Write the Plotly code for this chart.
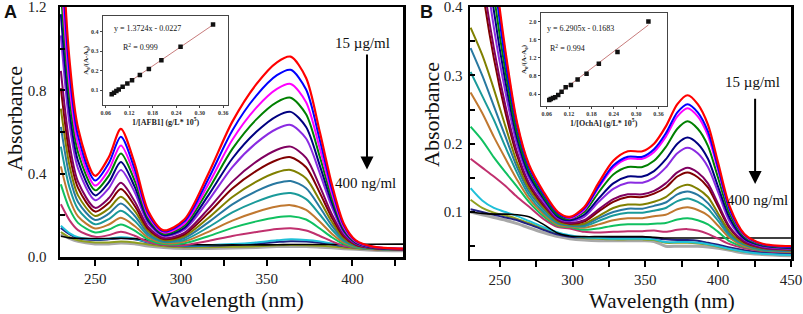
import plotly.graph_objects as go

W, H = 803, 314
SERIF = "Liberation Serif"
SANS = "Liberation Sans"

# ---------------- Panel A data (AFB1) ----------------
WL_A = [230, 235, 240, 250, 258, 265, 273, 281, 290, 302, 316, 330, 344, 356, 364, 373, 381, 388, 395, 402, 412, 430]

A_RED = [1.6, 0.95, 0.62, 0.39, 0.48, 0.615, 0.45, 0.22, 0.128, 0.18, 0.40, 0.65, 0.83, 0.935, 0.962, 0.86, 0.60, 0.35, 0.16, 0.08, 0.05, 0.04]
A_BLUE = [1.496, .89, .582, .367, .451, .577, .423, .209, .123, .171, .375, .608, .775, .873, .899, .804, .562, .329, .152, .077, .049, .039]
A_MAGENTA = [1.385, .827, .542, .343, .42, .536, .395, .197, .117, .16, .349, .563, .717, .807, .831, .743, .521, .306, .143, .074, .048, .039]
A_GREEN = [1.279, .766, .503, .32, .391, .497, .367, .185, .111, .151, .323, .519, .661, .744, .765, .685, .481, .284, .135, .071, .047, .038]
A_NAVY = [1.166, .701, .462, .296, .359, .456, .338, .173, .105, .14, .296, .473, .601, .677, .697, .624, .439, .262, .126, .068, .046, .038]
A_VIOLET = [1.064, .642, .425, .273, .331, .418, .312, .161, .10, .131, .271, .432, .548, .616, .634, .569, .402, .241, .118, .066, .045, .037]
A_PURPLE = [.894, .545, .362, .236, .283, .356, .268, .143, .091, .116, .231, .362, .458, .515, .53, .476, .339, .206, .105, .061, .043, .036]
A_WINE = [.811, .497, .332, .218, .26, .326, .246, .134, .086, .108, .211, .329, .414, .466, .479, .431, .308, .189, .098, .059, .043, .036]
A_OLIVE = [.712, .44, .296, .197, .233, .289, .221, .123, .081, .099, .187, .288, .362, .407, .418, .377, .271, .169, .09, .056, .042, .035]
A_TEAL = [.625, .39, .264, .178, .208, .257, .198, .113, .077, .091, .166, .253, .316, .355, .365, .33, .239, .151, .084, .054, .041, .035]
A_TEAL2 = [.53, .335, .23, .157, .182, .222, .174, .103, .072, .082, .143, .214, .266, .299, .307, .278, .204, .132, .076, .051, .04, .034]
A_ORANGE = [.435, .281, .195, .137, .156, .188, .149, .093, .067, .074, .121, .175, .216, .242, .249, .226, .169, .112, .069, .049, .039, .034]
A_GREEN2 = [.349, .232, .164, .118, .132, .156, .127, .083, .062, .066, .1, .14, .171, .191, .196, .18, .137, .095, .062, .046, .038, .033]
A_PINK = [.253, .177, .129, .097, .105, .121, .102, .073, .057, .057, .077, .101, .12, .134, .138, .127, .101, .075, .054, .044, .037, .033]
A_CYAN0 = [0.15, 0.115, 0.095, 0.085, 0.088, 0.095, 0.088, 0.072, 0.06, 0.055, 0.057, 0.062, 0.07, 0.08, 0.085, 0.082, 0.075, 0.065, 0.055, 0.048, 0.042, 0.036]
A_NAVY0 = [0.14, 0.11, 0.09, 0.082, 0.085, 0.09, 0.085, 0.07, 0.058, 0.052, 0.054, 0.058, 0.064, 0.072, 0.076, 0.074, 0.068, 0.06, 0.052, 0.046, 0.04, 0.035]
A_BLACK0 = [0.1, 0.092, 0.09, 0.089, 0.089, 0.09, 0.088, 0.08, 0.068, 0.06, 0.058, 0.058, 0.058, 0.059, 0.06, 0.06, 0.06, 0.06, 0.06, 0.06, 0.061, 0.062]
A_OLIVE0 = [0.12, 0.095, 0.08, 0.07, 0.07, 0.074, 0.07, 0.06, 0.052, 0.047, 0.047, 0.049, 0.052, 0.057, 0.058, 0.057, 0.054, 0.05, 0.045, 0.041, 0.037, 0.033]
A_GRAY0 = [0.11, 0.09, 0.075, 0.063, 0.063, 0.067, 0.063, 0.053, 0.046, 0.041, 0.041, 0.043, 0.046, 0.05, 0.051, 0.05, 0.047, 0.044, 0.04, 0.037, 0.033, 0.03]

# Inset A calibration
INSET_A_X = [0.075, 0.081, 0.087, 0.093, 0.103, 0.115, 0.127, 0.147, 0.170, 0.202, 0.251, 0.334]
INSET_A_Y = [0.078, 0.086, 0.095, 0.103, 0.117, 0.134, 0.150, 0.177, 0.208, 0.253, 0.322, 0.437]
FIT_A_X = [0.070, 0.336]
FIT_A_Y = [0.073, 0.438]

# ---------------- Panel B data (OchA) ----------------
WL_B = [230, 238, 246, 254, 262, 270, 280, 290, 298, 308, 318, 328, 338, 348, 356, 364, 372, 379, 386, 393, 400, 408, 418, 430, 450]

B_RED = [1.0, 0.66, 0.47, 0.335, 0.23, 0.17, 0.13, 0.10, .093, .107, .143, .175, .189, .189, .2, .225, .258, .271, .258, .228, .172, .108, .068, .054, .05]
B_BLUE = [0.95, 0.63, 0.45, 0.32, 0.225, 0.166, 0.127, 0.098, .092, .105, .138, .168, .181, .181, .192, .215, .246, .258, .246, .218, .165, .104, .067, .053, .049]
B_MAGENTA = [0.97, 0.645, 0.46, 0.33, 0.228, 0.168, 0.128, 0.099, .091, .103, .136, .165, .178, .178, .188, .21, .24, .252, .24, .212, .161, .103, .066, .053, .049]
B_GREEN = [0.88, 0.58, 0.42, 0.305, 0.215, 0.16, 0.123, 0.095, .09, .10, .129, .155, .166, .166, .175, .195, .222, .233, .222, .197, .15, .097, .064, .052, .048]
B_NAVY = [0.80, 0.54, 0.395, 0.29, 0.207, 0.155, 0.12, 0.093, .088, .096, .12, .142, .152, .152, .16, .177, .20, .209, .20, .178, .137, .091, .061, .051, .047]
B_VIOLET = [0.72, 0.50, 0.37, 0.275, 0.198, 0.15, 0.116, 0.091, .087, .093, .115, .134, .143, .143, .15, .165, .186, .194, .186, .166, .129, .086, .06, .05, .046]
B_PURPLE = [0.62, 0.45, 0.34, 0.255, 0.187, 0.143, 0.112, 0.089, .084, .088, .104, .119, .126, .126, .131, .142, .158, .165, .158, .142, .112, .078, .057, .048, .045]
B_WINE = [0.58, 0.43, 0.325, 0.245, 0.182, 0.14, 0.11, 0.088, .083, .086, .101, .115, .122, .122, .127, .136, .152, .158, .151, .136, .108, .076, .056, .048, .045]
B_OLIVE = [0.37, 0.33, 0.28, 0.225, 0.172, 0.135, 0.107, 0.086, .082, .083, .094, .106, .111, .111, .115, .122, .135, .14, .134, .122, .098, .071, .054, .047, .044]
B_TEAL = [0.34, 0.30, 0.255, 0.21, 0.165, 0.13, 0.104, 0.085, .081, .081, .091, .10, .105, .105, .109, .114, .126, .13, .125, .113, .093, .068, .053, .046, .043]
B_TEAL2 = [0.305, 0.27, 0.235, 0.195, 0.157, 0.125, 0.1, 0.083, .08, .079, .087, .095, .099, .099, .102, .106, .116, .12, .115, .105, .087, .065, .052, .045, .043]
B_ORANGE = [0.275, 0.245, 0.21, 0.178, 0.147, 0.12, 0.097, 0.081, .079, .077, .082, .088, .091, .091, .094, .096, .104, .107, .103, .095, .08, .062, .05, .045, .042]
B_GREEN2 = [0.225, 0.205, 0.18, 0.158, 0.137, 0.115, 0.094, 0.08, .078, .074, .076, .08, .082, .082, .083, .084, .089, .091, .088, .082, .071, .057, .049, .044, .042]
B_PINK = [0.178, 0.165, 0.152, 0.138, 0.122, 0.108, 0.09, 0.078, .076, .071, .07, .071, .072, .072, .073, .071, .074, .075, .073, .068, .061, .053, .047, .043, .041]
B_CYAN0 = [0.135, 0.117, 0.106, 0.1, 0.094, 0.087, 0.078, 0.07, 0.066, 0.063, 0.062, 0.061, 0.061, 0.061, 0.06, 0.056, 0.056, 0.056, 0.055, 0.053, 0.05, 0.046, 0.042, 0.039, 0.037]
B_OLIVE0 = [0.118, 0.106, 0.099, 0.095, 0.09, 0.084, 0.076, 0.069, 0.065, 0.062, 0.061, 0.06, 0.06, 0.06, 0.059, 0.055, 0.055, 0.055, 0.054, 0.052, 0.049, 0.045, 0.042, 0.04, 0.038]
B_BLACK0 = [0.1, 0.098, 0.097, 0.097, 0.096, 0.093, 0.082, 0.069, 0.065, 0.064, 0.064, 0.064, 0.064, 0.064, 0.063, 0.062, 0.062, 0.062, 0.062, 0.062, 0.062, 0.062, 0.062, 0.062, 0.062]
B_NAVY0 = [0.104, 0.1, 0.096, 0.092, 0.088, 0.082, 0.074, 0.067, 0.064, 0.063, 0.063, 0.063, 0.063, 0.063, 0.062, 0.06, 0.059, 0.059, 0.058, 0.055, 0.052, 0.048, 0.044, 0.041, 0.039]
B_GRAY0 = [0.1, 0.096, 0.092, 0.088, 0.083, 0.077, 0.07, 0.064, 0.061, 0.059, 0.058, 0.058, 0.058, 0.058, 0.057, 0.05, 0.05, 0.05, 0.05, 0.049, 0.047, 0.044, 0.04, 0.038, 0.036]

INSET_B_X = [0.067, 0.071, 0.077, 0.083, 0.091, 0.100, 0.111, 0.125, 0.143, 0.167, 0.200, 0.250, 0.333]
INSET_B_Y = [0.27, 0.29, 0.31, 0.33, 0.38, 0.45, 0.55, 0.60, 0.72, 0.85, 1.07, 1.33, 2.0]
FIT_B_X = [0.067, 0.333]
FIT_B_Y = [0.253, 1.926]

# colours (Origin-like palette)
C = dict(red="#FF0000", blue="#0000FF", magenta="#FF00FF", green="#008000", navy="#000080",
         violet="#8A2BE2", purple="#800060", wine="#800000", olive="#808000", teal="#2878A0",
         teal2="#1A9A9A", orange="#C07830", green2="#10C060", pink="#C0306E",
         cyan0="#20C0D8", navy0="#202080", black0="#000000", olive0="#90A020", gray0="#A8A8A8")

SERIES_A = [
    (A_GRAY0, "gray0", 3), (A_OLIVE0, "olive0", 2), (A_NAVY0, "navy0", 2), (A_CYAN0, "cyan0", 2), (A_BLACK0, "black0", 1.6),
    (A_PINK, "pink", 2), (A_GREEN2, "green2", 2), (A_ORANGE, "orange", 2), (A_TEAL2, "teal2", 2), (A_TEAL, "teal", 2),
    (A_OLIVE, "olive", 2), (A_WINE, "wine", 2), (A_PURPLE, "purple", 2), (A_VIOLET, "violet", 2), (A_NAVY, "navy", 2),
    (A_GREEN, "green", 2), (A_MAGENTA, "magenta", 2), (A_BLUE, "blue", 2), (A_RED, "red", 2.2),
]
SERIES_B = [
    (B_GRAY0, "gray0", 3), (B_OLIVE0, "olive0", 2), (B_NAVY0, "navy0", 2), (B_CYAN0, "cyan0", 2), (B_BLACK0, "black0", 1.6),
    (B_PINK, "pink", 2), (B_GREEN2, "green2", 2), (B_ORANGE, "orange", 2), (B_TEAL2, "teal2", 2), (B_TEAL, "teal", 2),
    (B_OLIVE, "olive", 2), (B_WINE, "wine", 2), (B_PURPLE, "purple", 2), (B_VIOLET, "violet", 2), (B_NAVY, "navy", 2),
    (B_GREEN, "green", 2), (B_MAGENTA, "magenta", 2), (B_BLUE, "blue", 2), (B_RED, "red", 2.2),
]

fig = go.Figure()
for ys, c, w in SERIES_A:
    fig.add_trace(go.Scatter(x=WL_A, y=ys, mode="lines", xaxis="x", yaxis="y",
                             line=dict(color=C[c], width=w, shape="spline", smoothing=0.8),
                             showlegend=False, hoverinfo="skip"))
for ys, c, w in SERIES_B:
    fig.add_trace(go.Scatter(x=WL_B, y=ys, mode="lines", xaxis="x2", yaxis="y2",
                             line=dict(color=C[c], width=w, shape="spline", smoothing=0.8),
                             showlegend=False, hoverinfo="skip"))

# insets
fig.add_trace(go.Scatter(x=FIT_A_X, y=FIT_A_Y, mode="lines", xaxis="x3", yaxis="y3",
                         line=dict(color="#C87C7C", width=1), showlegend=False, hoverinfo="skip"))
fig.add_trace(go.Scatter(x=INSET_A_X, y=INSET_A_Y, mode="markers", xaxis="x3", yaxis="y3",
                         marker=dict(symbol="square", size=4.5, color="#111"), showlegend=False, hoverinfo="skip"))
fig.add_trace(go.Scatter(x=FIT_B_X, y=FIT_B_Y, mode="lines", xaxis="x4", yaxis="y4",
                         line=dict(color="#C87C7C", width=1), showlegend=False, hoverinfo="skip"))
fig.add_trace(go.Scatter(x=INSET_B_X, y=INSET_B_Y, mode="markers", xaxis="x4", yaxis="y4",
                         marker=dict(symbol="square", size=4.5, color="#111"), showlegend=False, hoverinfo="skip"))


def dx(a, b):
    return [a / W, b / W]


def dy(top, bottom):
    return [1 - bottom / H, 1 - top / H]


main_x = dict(showline=True, linewidth=2.5, linecolor="black", mirror=True, ticks="outside",
              ticklen=6, tickwidth=2, tickcolor="black", dtick=50, tick0=0,
              minor=dict(dtick=25, ticks="outside", ticklen=6, tickwidth=2, tickcolor="black"),
              tickfont=dict(family=SERIF, size=15, color="#222"), showgrid=False, zeroline=False,
              ticklabelstandoff=0, ticklabeloverflow="allow", automargin=False)
main_y = dict(showline=True, linewidth=2.5, linecolor="black", mirror=True, ticks="inside",
              ticklen=5, tickwidth=2, tickcolor="black", tickformat=".1f",
              tickfont=dict(family=SERIF, size=15, color="#222"), showgrid=False, zeroline=False,
              ticklabeloverflow="allow", automargin=False)

inset_x = dict(showline=True, linewidth=1, linecolor="#444", mirror=True, ticks="outside",
               ticklen=2, tickwidth=1, tickcolor="#444", dtick=0.06, tick0=0, tickformat=".2f",
               tickfont=dict(family=SERIF, size=6, color="#333", weight="bold"),
               showgrid=False, zeroline=False, automargin=False)
inset_y = dict(showline=True, linewidth=1, linecolor="#444", mirror=True, ticks="outside",
               ticklen=2, tickwidth=1, tickcolor="#444", tickformat=".1f",
               tickfont=dict(family=SERIF, size=6, color="#333", weight="bold"),
               showgrid=False, zeroline=False, automargin=False)

fig.update_layout(
    width=W, height=H, autosize=False, margin=dict(l=0, r=0, t=0, b=0, pad=0, autoexpand=False),
    paper_bgcolor="white", plot_bgcolor="white", showlegend=False,
    xaxis=dict(main_x, domain=dx(60, 403), range=[229.5, 429.5], anchor="y"),
    yaxis=dict(main_y, domain=dy(7, 257), range=[0, 1.2005], dtick=0.4, tick0=0, anchor="x",
               minor=dict(dtick=0.2, ticks="inside", ticklen=5, tickwidth=2, tickcolor="black"),
               ticklabelstandoff=8),
    xaxis2=dict(main_x, domain=dx(470, 791), range=[229.6, 450.05], anchor="y2"),
    yaxis2=dict(main_y, domain=dy(7, 258.5), range=[0.032, 0.4002], dtick=0.1, tick0=0, anchor="x2",
                minor=dict(dtick=0.05, ticks="inside", ticklen=5, tickwidth=2, tickcolor="black"),
                ticklabelstandoff=2),
    xaxis3=dict(inset_x, domain=dx(102.7, 228.3), range=[0.052, 0.373], anchor="y3",
                title=dict(text="1/[AFB1] (g/L* 10<sup>5</sup>)",
                           font=dict(family=SERIF, size=8, color="#222", weight="bold"), standoff=2)),
    yaxis3=dict(inset_y, domain=dy(15.7, 105), range=[0.023, 0.482], dtick=0.1, tick0=0, anchor="x3",
                title=dict(text="A<sub>0</sub>/(A-A<sub>0</sub>)",
                           font=dict(family=SERIF, size=7, color="#222", weight="bold"), standoff=1)),
    xaxis4=dict(inset_x, domain=dx(540.7, 666.7), range=[0.044, 0.382], anchor="y4",
                title=dict(text="1/[OchA] (g/L* 10<sup>5</sup>)",
                           font=dict(family=SERIF, size=8, color="#222", weight="bold"), standoff=2)),
    yaxis4=dict(inset_y, domain=dy(13, 106), range=[0.135, 2.19], dtick=0.4, tick0=0, anchor="x4",
                title=dict(text="A<sub>0</sub>/(A-A<sub>0</sub>)",
                           font=dict(family=SERIF, size=7, color="#222", weight="bold"), standoff=1)),
)


def pa(text, px, py, size, family=SERIF, angle=0):
    return dict(text=text, x=px / W, y=1 - py / H, xref="paper", yref="paper", showarrow=False,
                xanchor="center", yanchor="middle", textangle=angle,
                font=dict(family=family, size=size, color="#111"))


ann = []
# panel letters
ann.append(pa("<b>A</b>", 10, 12, 18, SANS))
ann.append(pa("<b>B</b>", 426, 12, 18, SANS))
# axis titles
ann.append(pa("Absorbance", 14, 119, 22, angle=-90))
ann.append(pa("Absorbance", 431, 115, 22, angle=-90))
ann.append(pa("Wavelength (nm)", 227, 299.5, 22))
ann.append(pa("Wavelength (nm)", 662, 300.5, 21))


def da(text, x, y, xr, yr, size=15, xanchor="center"):
    return dict(text=text, x=x, y=y, xref=xr, yref=yr, showarrow=False, xanchor=xanchor,
                yanchor="middle", font=dict(family=SERIF, size=size, color="#111"))


# concentration labels + arrows (data coords)
ann.append(da("15 µg/ml", 405.6, 1.027, "x", "y"))
ann.append(da("400 ng/ml", 407.9, 0.355, "x", "y"))
ann.append(dict(text="", x=408.5, y=0.42, ax=408.5, ay=0.98, xref="x", yref="y", axref="x", ayref="y",
                showarrow=True, arrowhead=2, arrowsize=1.3, arrowwidth=2, arrowcolor="black"))
ann.append(da("15 µg/ml", 423.4, 0.29, "x2", "y2"))
ann.append(da("400 ng/ml", 426.8, 0.1176, "x2", "y2"))
ann.append(dict(text="", x=425.4, y=0.141, ax=425.4, ay=0.268, xref="x2", yref="y2", axref="x2", ayref="y2",
                showarrow=True, arrowhead=2, arrowsize=1.3, arrowwidth=2, arrowcolor="black"))
# inset equations
ann.append(da("y = 1.3724x - 0.0227", 0.0746, 0.414, "x3", "y3", 8, "left"))
ann.append(da("R<sup>2</sup> = 0.999", 0.0999, 0.323, "x3", "y3", 8, "left"))
ann.append(da("y = 6.2905x - 0.1683", 0.0565, 1.84, "x4", "y4", 8, "left"))
ann.append(da("R<sup>2</sup> = 0.994", 0.0633, 1.41, "x4", "y4", 8, "left"))
fig.update_layout(annotations=ann)

PAGE_FIX = ("var s=document.createElement('style');"
            "s.textContent='html,body{margin:0;padding:0;overflow:hidden;}';"
            "document.head.appendChild(s);")

fig.write_html("out.html", config={"displayModeBar": False, "staticPlot": True, "responsive": False},
               post_script=PAGE_FIX)
